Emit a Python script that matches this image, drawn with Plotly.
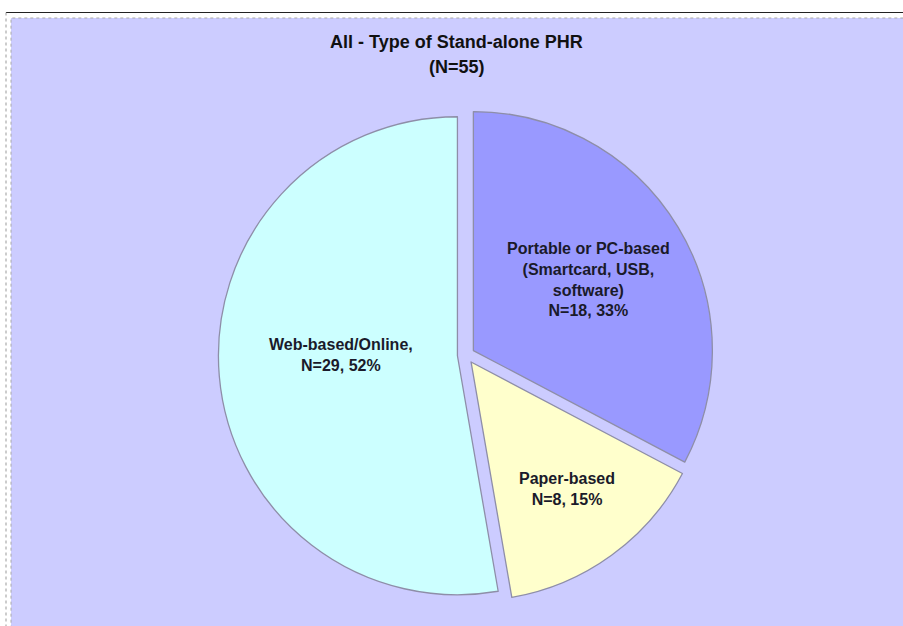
import plotly.graph_objects as go

# ---- data ----
categories = ["Portable or PC-based", "Paper-based", "Web-based/Online"]
counts = [18, 8, 29]
label_texts = [
    "Portable or PC-based<br>(Smartcard, USB,<br>software)<br>N=18, 33%",
    "Paper-based<br>N=8, 15%",
    "Web-based/Online,<br>N=29, 52%",
]
title_lines = ["All - Type of Stand-alone PHR", "(N=55)"]

# ---- styles ----
W, H = 903, 626
slice_colors = ["#9999FF", "#FFFFCC", "#CCFFFF"]
label_pos = [(588, 279), (567, 489), (341, 355)]  # pixel centres
FONT = "Liberation Sans, Arial, sans-serif"


def px(x):
    return x / W


def py(y):
    return 1 - y / H


# pie box in pixels: centre (466,355), radius 239, pull 0.036
pull = 0.036
R = 239
half = R * (1 + pull)
cx, cy = 466, 355

fig = go.Figure()
fig.add_trace(go.Pie(
    labels=categories,
    values=counts,
    sort=False,
    direction="clockwise",
    rotation=0,
    pull=[pull] * len(counts),
    marker=dict(colors=slice_colors, line=dict(color="#8e8ea8", width=1.3)),
    textinfo="none",
    hoverinfo="label+value+percent",
    showlegend=False,
    domain=dict(x=[px(cx - half), px(cx + half)],
                y=[py(cy + half), py(cy - half)]),
))

shapes = [
    # outer frame lines
    dict(type="line", xref="paper", yref="paper", x0=px(6), x1=1, y0=py(12.5), y1=py(12.5),
         line=dict(color="#222222", width=1)),
    dict(type="line", xref="paper", yref="paper", x0=px(6), x1=px(6), y0=py(12.5), y1=0,
         line=dict(color="#999999", width=1, dash="dot")),
    # lavender chart area
    dict(type="rect", xref="paper", yref="paper", x0=px(11), x1=1.01, y0=-0.01, y1=py(18),
         fillcolor="#CCCCFF", line=dict(color="#aaaaaa", width=1, dash="dot"), layer="below"),
]

annotations = [
    dict(text="<b>" + title_lines[0] + "</b>", x=px(457), y=py(42), xref="paper", yref="paper",
         showarrow=False, font=dict(family=FONT, size=18, color="#111111"),
         xanchor="center", yanchor="middle"),
    dict(text="<b>" + title_lines[1] + "</b>", x=px(457), y=py(67), xref="paper", yref="paper",
         showarrow=False, font=dict(family=FONT, size=18, color="#111111"),
         xanchor="center", yanchor="middle"),
]
for txt, (lx, ly) in zip(label_texts, label_pos):
    annotations.append(dict(
        text="<b>" + txt + "</b>", x=px(lx), y=py(ly), xref="paper", yref="paper",
        showarrow=False, align="center", xanchor="center", yanchor="middle",
        font=dict(family=FONT, size=16, color="#1a1a2a"),
    ))

fig.update_layout(
    width=W, height=H,
    margin=dict(l=0, r=0, t=0, b=0),
    paper_bgcolor="#FFFFFF",
    plot_bgcolor="#FFFFFF",
    shapes=shapes,
    annotations=annotations,
)

fig.write_html("out.html")
